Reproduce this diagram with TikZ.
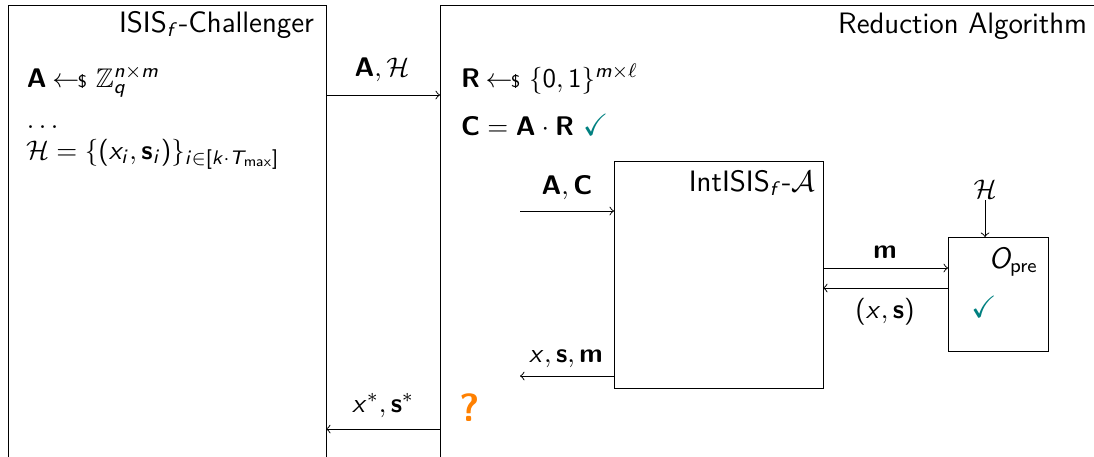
\documentclass[tikz,border=0pt]{standalone}
\usepackage{amssymb}
\DeclareSymbolFont{operators}{OT1}{cmss}{m}{n}
\DeclareSymbolFont{sfletters}{OT1}{cmss}{m}{sl}
\DeclareMathAlphabet{\mathbf}{OT1}{cmss}{bx}{n}
\DeclareMathAlphabet{\mathrm}{OT1}{cmss}{m}{n}
\makeatletter
\count@=`a
\loop
  \mathcode\count@=\numexpr "7000+\symsfletters*"100+\count@\relax
  \ifnum\count@<`z\relax \advance\count@ 1
\repeat
\count@=`A
\loop
  \mathcode\count@=\numexpr "7000+\symsfletters*"100+\count@\relax
  \ifnum\count@<`Z\relax \advance\count@ 1
\repeat
\makeatother
\newcommand{\smp}{\hskip2.3pt{\gets\!\!\mbox{\fontsize{7}{8}\selectfont${\$}$}}\,\,}
\begin{document}
\begin{tikzpicture}[x=0.4065pt,y=-0.4065pt,
  every node/.style={font=\fontsize{10.95}{13.6}\selectfont\sffamily, inner sep=0pt, outer sep=0pt},
  box/.style={draw, anchor=north west, line width=0.4pt},
  ttl/.style={font=\fontsize{12}{14.5}\selectfont\sffamily},
  arr/.style={->, >=to, line width=0.4pt},
  ok/.style={text=teal, font=\fontsize{12.5}{15}\selectfont}]
\useasboundingbox (0,0) rectangle (1094,456);
\clip (0,0) rectangle (1094,456);
% boxes
\node[box, minimum width=318*0.4065pt, minimum height=500*0.4065pt] (chal) at (8,5) {};
\node[box, minimum width=700*0.4065pt, minimum height=500*0.4065pt] (red) at (440,5) {};
\node[box, minimum width=209*0.4065pt, minimum height=227*0.4065pt] (adv) at (614,161) {};
\node[box, minimum width=100*0.4065pt, minimum height=114*0.4065pt] (opre) at (948,237) {};
% titles
\node[ttl, anchor=base east] (tchal) at (314,32) {ISIS$_f$-Challenger};
\node[ttl, anchor=base east] (tred) at (1087,33) {Reduction Algorithm};
\node[ttl, anchor=base east] (tadv) at (815,191) {IntISIS$_f$-$\mathcal{A}$};
\node[ttl, anchor=base east] (topre) at (1038,268) {$O_{\mathrm{pre}}$};
% challenger content
\node[anchor=base west] (c1) at (27,87) {$\mathbf{A} \smp \mathbb{Z}_q^{n\times m}$};
\node[anchor=base west] (c2) at (27,128) {$\ldots$};
\node[anchor=base west] (c3) at (26,159) {$\mathcal{H} = \{(x_i,\mathbf{s}_i)\}_{i\in[k\cdot T_{\max}]}$};
% reduction content
\node[anchor=base west] (r1) at (461,87) {$\mathbf{R} \smp \{0,1\}^{m\times \ell}$};
\node[anchor=base west] (r2) at (461,135) {$\mathbf{C} = \mathbf{A}\cdot\mathbf{R}$ \textcolor{teal}{\fontsize{12.5}{15}\selectfont$\checkmark$}};
% coordinates
\coordinate (yAH) at (0,95);
\coordinate (yXS) at (0,429);
\coordinate (acin) at (520,211);
\coordinate (xsmout) at (520,376);
\coordinate (ym) at (0,268);
\coordinate (yxs) at (0,288);
% arrows
\draw[arr] (chal.east |- yAH) -- (red.west |- yAH);
\node[anchor=base] (lAH) at (382,76) {$\mathbf{A},\mathcal{H}$};
\draw[arr] (red.west |- yXS) -- (chal.east |- yXS);
\node[anchor=base] (lXS) at (383,412) {$x^*,\mathbf{s}^*$};
\draw[arr] (acin) -- (adv.west |- acin);
\node[anchor=base] (lAC) at (567,194) {$\mathbf{A},\mathbf{C}$};
\draw[arr] (adv.west |- xsmout) -- (xsmout);
\node[anchor=base] (lXSM) at (566,362) {$x,\mathbf{s},\mathbf{m}$};
\draw[arr] (adv.east |- ym) -- (opre.west |- ym);
\node[anchor=base] (lm) at (885,258) {$\mathbf{m}$};
\draw[arr] (opre.west |- yxs) -- (adv.east |- yxs);
\node[anchor=base] (lxs) at (885,318) {$(x,\mathbf{s})$};
\node[anchor=base] (lH) at (985,198) {$\mathcal{H}$};
\draw[arr] ([yshift=-1pt]lH.south) -- (lH.south |- opre.north);
% marks
\node[ok] (chk) at (984,307) {$\checkmark$};
\node[text=orange, font=\fontsize{16}{18}\selectfont\sffamily\bfseries, anchor=base] (q) at (470,421) {?};
\end{tikzpicture}
\end{document}
